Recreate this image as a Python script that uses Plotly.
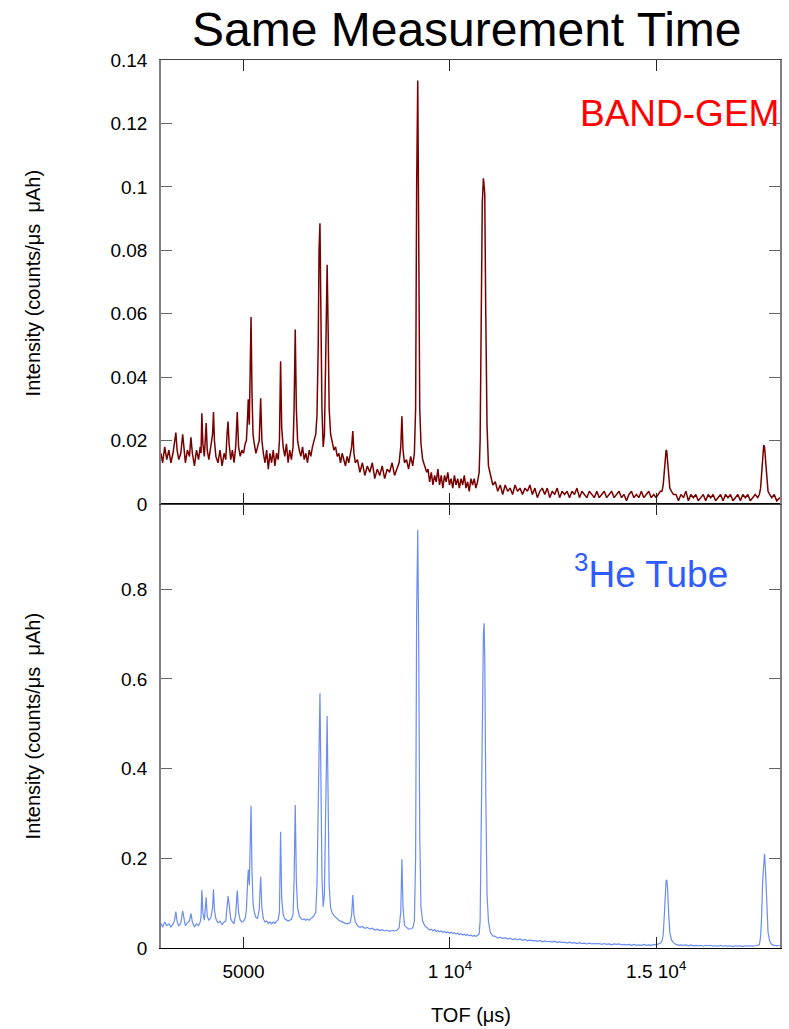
import plotly.graph_objects as go

# TOF channels (microseconds)
tof = [
    3000, 3040, 3090, 3140, 3190, 3240, 3290, 3330, 3360, 3390, 3430, 3480, 3525, 3555, 3590, 3640, 3690, 3725, 3760, 3810, 3860, 3910, 3950,
    3970, 3990, 4015, 4050, 4095, 4120, 4160, 4210, 4250, 4272, 4295, 4330, 4380, 4430, 4480, 4530,
    4570, 4600, 4625, 4650, 4690, 4730, 4770, 4810, 4848, 4880, 4920, 4960, 5000, 5040,
    5070, 5100, 5115, 5140, 5160, 5182, 5205, 5230, 5260, 5300, 5340, 5380, 5415, 5445, 5480, 5520, 5560, 5600, 5640, 5680, 5720, 5760, 5800, 5840, 5870,
    5898, 5925, 5960, 6000, 6040, 6080, 6120, 6160, 6200, 6225, 6253, 6280, 6310, 6350, 6390, 6430, 6470, 6510, 6550, 6590, 6630, 6670, 6710, 6750, 6780, 6810,
    6830, 6852, 6875, 6900, 6930, 6960, 6990, 7026, 7050, 7075, 7110, 7150, 7190, 7230, 7270, 7310, 7350, 7390, 7430, 7470, 7510, 7550, 7590, 7620, 7648, 7675, 7710,
    7760, 7820, 7880, 7940, 8000, 8060, 8120, 8180, 8240, 8300, 8360, 8420, 8480, 8540, 8600, 8660, 8720, 8770, 8810,
    8838, 8865, 8900, 8950, 9000, 9050, 9100, 9140, 9170, 9195, 9222, 9245, 9270, 9300, 9340, 9390, 9440,
    9470, 9510, 9550, 9590, 9630, 9670, 9710, 9750, 9790, 9830,
    9870, 9910, 9950, 9990, 10030, 10070, 10110, 10150, 10190, 10230,
    10270, 10310, 10350, 10390, 10430, 10470, 10510, 10550, 10590, 10630,
    10670, 10710,
    10733, 10762, 10786, 10813, 10830, 10845, 10870, 10900, 10935, 10980, 11040,
    11100, 11160, 11220, 11280, 11340, 11400, 11460, 11520, 11580, 11640,
    11700, 11760, 11820, 11880, 11940, 12000, 12060, 12120, 12180, 12240,
    12300, 12360, 12420, 12480, 12540, 12600, 12660, 12720, 12780, 12840,
    12900, 12960, 13020, 13080, 13140, 13200, 13260, 13320, 13380, 13440,
    13500, 13560, 13620, 13680, 13740, 13800, 13860, 13920, 13980, 14040,
    14100, 14160, 14220, 14280, 14340, 14400, 14460, 14520, 14580, 14640,
    14700, 14760, 14820, 14880, 14940, 15000, 15060, 15100,
    15140, 15170, 15195, 15220, 15240, 15255, 15275, 15300, 15330, 15370, 15420,
    15480, 15540, 15600, 15660, 15720, 15780, 15840, 15900, 15960, 16020,
    16080, 16140, 16200, 16260, 16320, 16380, 16440, 16500, 16560, 16620,
    16680, 16740, 16800, 16860, 16920, 16980, 17040, 17100, 17160, 17220,
    17280, 17340, 17400, 17460,
    17500, 17530, 17555, 17580, 17605, 17625, 17650, 17680, 17710, 17750, 17800, 17860, 17920, 18000,
]

# BAND-GEM intensity (counts/us uAh)
gem = [
    0.016, 0.013, 0.018, 0.014, 0.017, 0.013, 0.016, 0.019, 0.0225, 0.017, 0.014, 0.016, 0.022, 0.018, 0.013, 0.017, 0.015, 0.021, 0.016, 0.012, 0.017, 0.014, 0.018,
    0.016, 0.0286, 0.019, 0.015, 0.0255, 0.017, 0.014, 0.018, 0.022, 0.029, 0.020, 0.015, 0.013, 0.017, 0.012, 0.016,
    0.014, 0.022, 0.026, 0.019, 0.014, 0.017, 0.013, 0.018, 0.029, 0.018, 0.015, 0.017, 0.016, 0.019,
    0.020, 0.028, 0.033, 0.025, 0.040, 0.059, 0.035, 0.022, 0.019, 0.016, 0.018, 0.020, 0.0333, 0.020, 0.016, 0.013, 0.017, 0.011, 0.016, 0.013, 0.017, 0.012, 0.016, 0.014, 0.020,
    0.045, 0.024, 0.018, 0.015, 0.019, 0.013, 0.017, 0.014, 0.018, 0.030, 0.055, 0.030, 0.020, 0.017, 0.015, 0.018, 0.014, 0.016, 0.013, 0.017, 0.015, 0.018, 0.020, 0.022, 0.028, 0.050,
    0.080, 0.0885, 0.060, 0.030, 0.018, 0.022, 0.045, 0.0754, 0.055, 0.030, 0.022, 0.019, 0.017, 0.018, 0.015, 0.016, 0.013, 0.016, 0.014, 0.012, 0.015, 0.013, 0.016, 0.018, 0.023, 0.016, 0.013,
    0.014, 0.010, 0.013, 0.009, 0.012, 0.010, 0.013, 0.008, 0.011, 0.009, 0.012, 0.008, 0.011, 0.010, 0.013, 0.009, 0.011, 0.013, 0.018,
    0.0277, 0.017, 0.013, 0.014, 0.011, 0.015, 0.012, 0.016, 0.030, 0.100, 0.1335, 0.085, 0.030, 0.019, 0.014, 0.012, 0.010,
    0.011, 0.007, 0.010, 0.006, 0.009, 0.007, 0.011, 0.006, 0.009, 0.005,
    0.009, 0.007, 0.010, 0.006, 0.008, 0.005, 0.009, 0.006, 0.008, 0.005,
    0.008, 0.006, 0.009, 0.005, 0.007, 0.004, 0.008, 0.006, 0.008, 0.005,
    0.007, 0.010,
    0.020, 0.060, 0.095, 0.1027, 0.101, 0.098, 0.060, 0.025, 0.012, 0.009, 0.006,
    0.007, 0.004, 0.006, 0.003, 0.006, 0.004, 0.005, 0.003, 0.006, 0.004,
    0.005, 0.003, 0.005, 0.004, 0.006, 0.003, 0.005, 0.002, 0.004, 0.005,
    0.003, 0.005, 0.002, 0.004, 0.003, 0.005, 0.002, 0.004, 0.003, 0.004,
    0.002, 0.004, 0.003, 0.005, 0.002, 0.004, 0.003, 0.002, 0.004, 0.003,
    0.002, 0.004, 0.002, 0.003, 0.004, 0.002, 0.003, 0.004, 0.002, 0.003,
    0.004, 0.002, 0.003, 0.001, 0.003, 0.004, 0.002, 0.003, 0.002, 0.004,
    0.002, 0.003, 0.004, 0.002, 0.003, 0.002, 0.003, 0.004,
    0.004, 0.006, 0.010, 0.015, 0.017, 0.0168, 0.014, 0.009, 0.005, 0.004, 0.003,
    0.003, 0.001, 0.003, 0.002, 0.004, 0.001, 0.003, 0.002, 0.003, 0.001,
    0.002, 0.003, 0.001, 0.003, 0.002, 0.003, 0.001, 0.002, 0.003, 0.001,
    0.003, 0.002, 0.003, 0.001, 0.002, 0.003, 0.001, 0.003, 0.002, 0.003,
    0.001, 0.002, 0.003, 0.002,
    0.003, 0.005, 0.009, 0.015, 0.0186, 0.018, 0.014, 0.008, 0.004, 0.003, 0.002, 0.003, 0.001, 0.002,
]

# 3He tube intensity (counts/us uAh)
he3 = [
    0.055, 0.046, 0.058, 0.050, 0.054, 0.047, 0.053, 0.062, 0.081, 0.060, 0.049, 0.055, 0.083, 0.062, 0.050, 0.056, 0.060, 0.077, 0.058, 0.047, 0.054, 0.050, 0.058,
    0.070, 0.129, 0.078, 0.062, 0.113, 0.070, 0.062, 0.068, 0.090, 0.131, 0.085, 0.065, 0.056, 0.060, 0.052, 0.058,
    0.060, 0.100, 0.116, 0.098, 0.065, 0.058, 0.055, 0.075, 0.128, 0.080, 0.062, 0.058, 0.060, 0.066,
    0.085, 0.150, 0.175, 0.140, 0.220, 0.317, 0.170, 0.100, 0.080, 0.068, 0.066, 0.085, 0.159, 0.090, 0.065, 0.058, 0.060, 0.055, 0.058, 0.054, 0.058, 0.055, 0.060, 0.063, 0.080,
    0.259, 0.110, 0.075, 0.065, 0.062, 0.060, 0.062, 0.064, 0.075, 0.150, 0.319, 0.150, 0.090, 0.072, 0.066, 0.063, 0.065, 0.062, 0.064, 0.062, 0.066, 0.068, 0.072, 0.080, 0.140, 0.330,
    0.500, 0.568, 0.380, 0.160, 0.092, 0.120, 0.300, 0.517, 0.330, 0.140, 0.090, 0.078, 0.072, 0.068, 0.065, 0.062, 0.060, 0.058, 0.056, 0.055, 0.054, 0.055, 0.058, 0.075, 0.118, 0.075, 0.058,
    0.050, 0.046, 0.048, 0.044, 0.046, 0.042, 0.044, 0.040, 0.042, 0.039, 0.041, 0.038, 0.040, 0.037, 0.039, 0.038, 0.040, 0.045, 0.080,
    0.198, 0.090, 0.050, 0.045, 0.042, 0.043, 0.045, 0.060, 0.200, 0.750, 0.932, 0.680, 0.250, 0.090, 0.060, 0.050, 0.045,
    0.044, 0.040, 0.042, 0.038, 0.041, 0.037, 0.039, 0.036, 0.038, 0.035,
    0.037, 0.034, 0.036, 0.033, 0.035, 0.032, 0.034, 0.031, 0.033, 0.030,
    0.032, 0.029, 0.031, 0.028, 0.030, 0.027, 0.029, 0.026, 0.028, 0.026,
    0.028, 0.032,
    0.060, 0.300, 0.620, 0.700, 0.724, 0.650, 0.350, 0.120, 0.060, 0.035, 0.027,
    0.026, 0.022, 0.024, 0.021, 0.023, 0.020, 0.022, 0.019, 0.021, 0.018,
    0.020, 0.017, 0.019, 0.016, 0.018, 0.016, 0.017, 0.015, 0.017, 0.014,
    0.016, 0.014, 0.015, 0.013, 0.015, 0.012, 0.014, 0.012, 0.013, 0.011,
    0.013, 0.011, 0.012, 0.010, 0.012, 0.010, 0.011, 0.009, 0.011, 0.009,
    0.010, 0.009, 0.010, 0.008, 0.010, 0.008, 0.009, 0.007, 0.009, 0.008,
    0.009, 0.007, 0.008, 0.007, 0.008, 0.006, 0.008, 0.006, 0.007, 0.006,
    0.008, 0.006, 0.007, 0.006, 0.008, 0.007, 0.009, 0.011,
    0.015, 0.030, 0.070, 0.125, 0.150, 0.152, 0.135, 0.080, 0.035, 0.018, 0.012,
    0.008, 0.006, 0.007, 0.006, 0.007, 0.005, 0.007, 0.005, 0.006, 0.005,
    0.006, 0.004, 0.006, 0.005, 0.006, 0.004, 0.005, 0.004, 0.006, 0.004,
    0.005, 0.004, 0.005, 0.003, 0.005, 0.004, 0.005, 0.003, 0.005, 0.004,
    0.005, 0.004, 0.005, 0.006,
    0.007, 0.025, 0.070, 0.150, 0.205, 0.210, 0.170, 0.090, 0.035, 0.015, 0.008, 0.006, 0.005, 0.005,
]

assert len(tof) == len(gem) == len(he3), (len(tof), len(gem), len(he3))

x_tickvals = [5000, 10000, 15000]
x_ticktext = ["5000", "1 10<sup>4</sup>", "1.5 10<sup>4</sup>"]
gem_tickvals = [0, 0.02, 0.04, 0.06, 0.08, 0.1, 0.12, 0.14]
gem_ticktext = ["0", "0.02", "0.04", "0.06", "0.08", "0.1", "0.12", "0.14"]
he_tickvals = [0, 0.2, 0.4, 0.6, 0.8]
he_ticktext = ["0", "0.2", "0.4", "0.6", "0.8"]

FONT = "Liberation Sans, Arial, Helvetica, sans-serif"

fig = go.Figure()
fig.add_trace(go.Scatter(x=tof, y=gem, xaxis="x2", yaxis="y2", mode="lines",
                         line=dict(color="#7a0000", width=1.5), name="BAND-GEM"))
fig.add_trace(go.Scatter(x=tof, y=he3, xaxis="x", yaxis="y", mode="lines",
                         line=dict(color="#6a8cf5", width=1.2), name="3He Tube"))

common_x = dict(range=[3000, 18000], tickvals=x_tickvals, ticks="inside", ticklen=11,
                tickcolor="#222", showline=True, mirror="ticks", showgrid=False,
                zeroline=False)
common_y = dict(ticks="inside", ticklen=11, tickcolor="#666", showline=True,
                linecolor="#808080", linewidth=1.5, mirror="ticks", showgrid=False,
                zeroline=False, tickfont=dict(size=19, color="black", family=FONT),
                ticklabelstandoff=8)

fig.update_layout(
    width=789, height=1029,
    margin=dict(l=161, r=7, t=60, b=81),
    plot_bgcolor="white", paper_bgcolor="white",
    showlegend=False,
    font=dict(family=FONT, color="black"),
    xaxis=dict(domain=[0, 1], anchor="y", ticktext=x_ticktext, linecolor="black",
               tickfont=dict(size=19, color="black", family=FONT), ticklabelstandoff=6,
               **common_x),
    xaxis2=dict(domain=[0, 1], anchor="y2", matches="x", showticklabels=False,
                linecolor="#444", **common_x),
    yaxis=dict(domain=[0, 0.5], range=[0, 0.99], tickvals=he_tickvals,
               ticktext=he_ticktext, **common_y),
    yaxis2=dict(domain=[0.5, 1], range=[0, 0.14], tickvals=gem_tickvals,
                ticktext=gem_ticktext, **common_y),
    annotations=[
        dict(text="Same Measurement Time", xref="paper", yref="paper", x=0.4944, y=1.0338,
             xanchor="center", yanchor="middle", showarrow=False,
             font=dict(size=48, color="black", family=FONT)),
        dict(text="BAND-GEM", xref="paper", yref="paper", x=1.0016, y=0.9403,
             xanchor="right", yanchor="middle", showarrow=False,
             font=dict(size=37, color="#ff0000", family=FONT)),
        dict(text="<sup>3</sup>He Tube", xref="paper", yref="paper", x=0.6634, y=0.4235,
             xanchor="left", yanchor="middle", showarrow=False,
             font=dict(size=37, color="#2f5bff", family=FONT)),
        dict(text="Intensity (counts/\u03bcs\u00a0 \u03bcAh)", xref="paper", yref="paper",
             x=-0.2061, y=0.7489, xanchor="center", yanchor="middle", textangle=-90,
             showarrow=False, font=dict(size=20, color="black", family=FONT)),
        dict(text="Intensity (counts/\u03bcs\u00a0 \u03bcAh)", xref="paper", yref="paper",
             x=-0.2061, y=0.25, xanchor="center", yanchor="middle", textangle=-90,
             showarrow=False, font=dict(size=20, color="black", family=FONT)),
        dict(text="TOF (\u03bcs)", xref="paper", yref="paper", x=0.5, y=-0.0755,
             xanchor="center", yanchor="middle", showarrow=False,
             font=dict(size=20, color="black", family=FONT)),
    ],
)

fig.write_html("out.html")
